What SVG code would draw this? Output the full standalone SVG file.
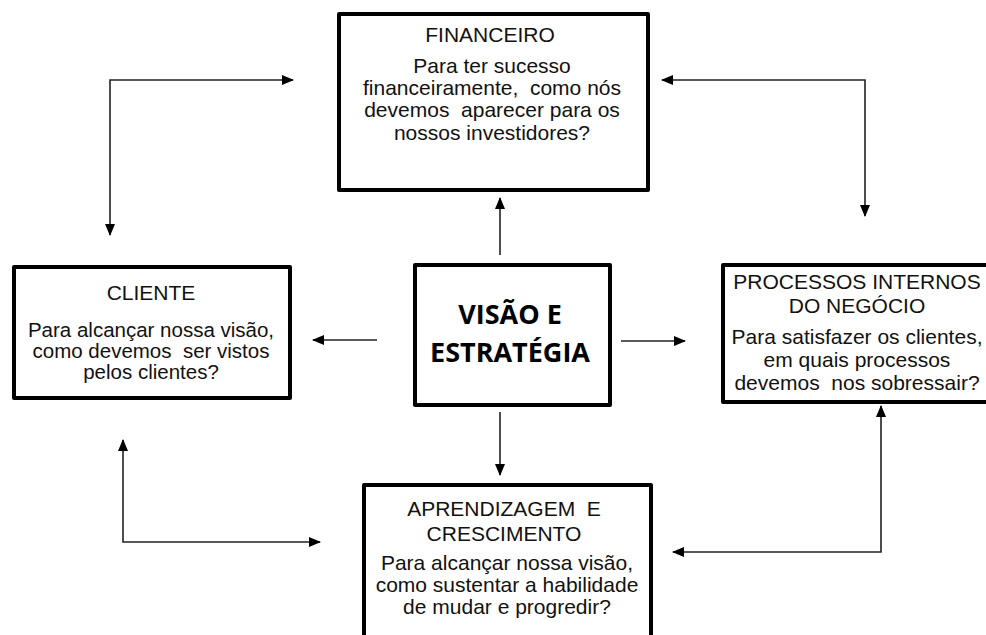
<svg xmlns="http://www.w3.org/2000/svg" width="986" height="635" viewBox="0 0 986 635">
<style>
.box{fill:#fff;stroke:#000;stroke-width:4;stroke-linejoin:round}
.t{font-family:"Liberation Sans",Arial,sans-serif;font-size:21px;fill:#111;text-anchor:middle;white-space:pre}
.s{font-size:20.5px}
.c{font-family:"Open Sans","Noto Sans",sans-serif;font-weight:bold;font-size:27px;fill:#000;text-anchor:middle}
.con{fill:none;stroke:#222;stroke-width:1.6}
</style>
<defs>
<marker id="ah" viewBox="0 0 12 10" refX="11" refY="5" markerWidth="12" markerHeight="10" markerUnits="userSpaceOnUse" orient="auto-start-reverse">
<path d="M0,0 L12,5 L0,10 z" fill="#000"/>
</marker>
</defs>
<rect width="986" height="635" fill="#fff"/>
<g id="connectors">
<path class="con" d="M500,255 L500,198" marker-end="url(#ah)"/>
<path class="con" d="M500,412 L500,475" marker-end="url(#ah)"/>
<path class="con" d="M377,340 L313,340" marker-end="url(#ah)"/>
<path class="con" d="M621,341 L685,341" marker-end="url(#ah)"/>
<path class="con" d="M293,80 L110,80 L110,235" marker-start="url(#ah)" marker-end="url(#ah)"/>
<path class="con" d="M662,80 L865,80 L865,216" marker-start="url(#ah)" marker-end="url(#ah)"/>
<path class="con" d="M123,440 L123,542 L320,542" marker-start="url(#ah)" marker-end="url(#ah)"/>
<path class="con" d="M881,406 L881,552 L673,552" marker-start="url(#ah)" marker-end="url(#ah)"/>
</g>
<g id="financeiro">
<rect class="box" x="339" y="14" width="309" height="176"/>
<text class="t" x="490" y="42">FINANCEIRO</text>
<text class="t" x="492" y="73">Para ter sucesso</text>
<text class="t" x="492" y="95">financeiramente,  como nós</text>
<text class="t" x="492" y="117">devemos  aparecer para os</text>
<text class="t" x="492" y="140">nossos investidores?</text>
</g>
<g id="cliente">
<rect class="box" x="14" y="267" width="276" height="131"/>
<text class="t" x="151" y="300">CLIENTE</text>
<text class="t s" x="151" y="337">Para alcançar nossa visão,</text>
<text class="t s" x="151" y="358">como devemos  ser vistos</text>
<text class="t s" x="151" y="379">pelos clientes?</text>
</g>
<g id="visao">
<rect class="box" x="415" y="265" width="195" height="140"/>
<text class="c" x="510" y="324">VISÃO E</text>
<text class="c" x="510" y="362">ESTRATÉGIA</text>
</g>
<g id="processos">
<rect class="box" x="723" y="265" width="290" height="137"/>
<text class="t" x="857" y="289">PROCESSOS INTERNOS</text>
<text class="t" x="857" y="313">DO NEGÓCIO</text>
<text class="t" x="857" y="344">Para satisfazer os clientes,</text>
<text class="t" x="857" y="367">em quais processos</text>
<text class="t" x="857" y="390">devemos  nos sobressair?</text>
</g>
<g id="aprendizagem">
<rect class="box" x="364" y="485" width="287" height="170"/>
<text class="t" x="504" y="516">APRENDIZAGEM  E</text>
<text class="t" x="504" y="541">CRESCIMENTO</text>
<text class="t" x="507" y="570">Para alcançar nossa visão,</text>
<text class="t" x="507" y="592">como sustentar a habilidade</text>
<text class="t" x="507" y="614">de mudar e progredir?</text>
</g>
</svg>
